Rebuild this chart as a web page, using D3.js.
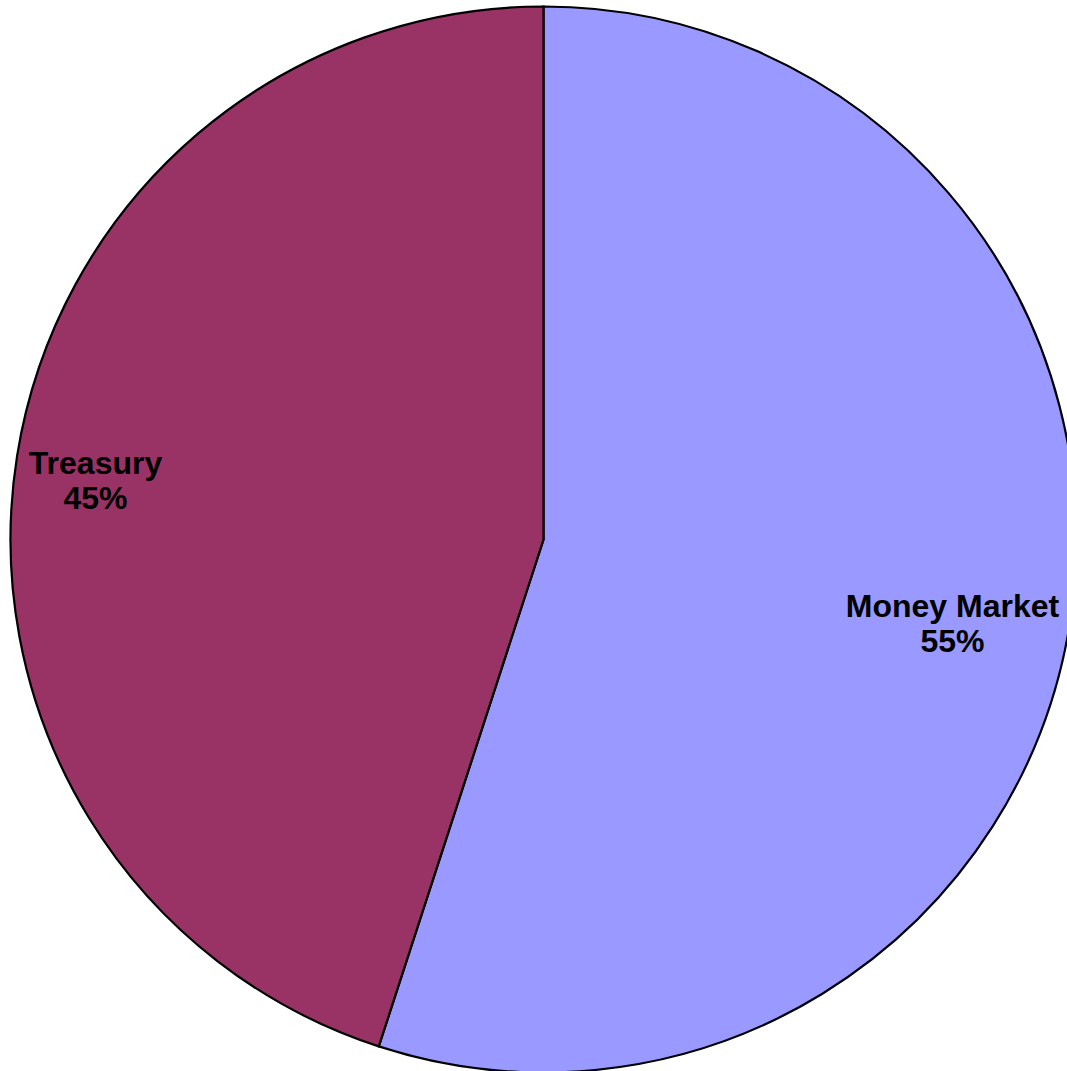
<!DOCTYPE html>
<html>
<head>
<meta charset="utf-8">
<script src="https://cdn.jsdelivr.net/npm/d3@7"></script>
<style>
  html, body { margin: 0; padding: 0; background: #fff; overflow: hidden; }
  text { font-family: "Liberation Sans", Arial, sans-serif; font-weight: bold; }
</style>
</head>
<body>
<div id="chart"></div>
<script>
const categories = ["Money Market", "Treasury"];
const values = [55, 45];
const colors = ["#9999FF", "#993366"];
// label anchor points, relative to the pie centre (px)
const labelOffsets = [[409, 77], [-448, -66]];

const width = 1067,
  height = 1071;
const cx = 543.5,
  cy = 539.5,
  radius = 533;

const svg = d3
  .select("#chart")
  .append("svg")
  .attr("width", width)
  .attr("height", height);

const g = svg.append("g").attr("transform", `translate(${cx},${cy})`);

const pie = d3.pie().sort(null).value((d) => d.value);
const arc = d3.arc().innerRadius(0).outerRadius(radius);

const data = categories.map((c, i) => ({ name: c, value: values[i], color: colors[i] }));
const arcs = pie(data);

g.selectAll("path.slice")
  .data(arcs)
  .join("path")
  .attr("class", "slice")
  .attr("d", arc)
  .attr("fill", (d) => d.data.color)
  .attr("stroke", "#000")
  .attr("stroke-width", 2.2)
  .attr("stroke-linejoin", "miter");

const total = d3.sum(values);
const labels = g
  .selectAll("text.label")
  .data(arcs)
  .join("text")
  .attr("class", "label")
  .attr("text-anchor", "middle")
  .attr("font-size", 32)
  .attr("fill", "#000")
  .attr("transform", (d, i) => `translate(${labelOffsets[i][0]},${labelOffsets[i][1]})`);

labels.append("tspan").attr("x", 0).attr("y", 0).text((d) => d.data.name);
labels
  .append("tspan")
  .attr("x", 0)
  .attr("y", 35)
  .text((d) => Math.round((d.data.value / total) * 100) + "%");
</script>
</body>
</html>
